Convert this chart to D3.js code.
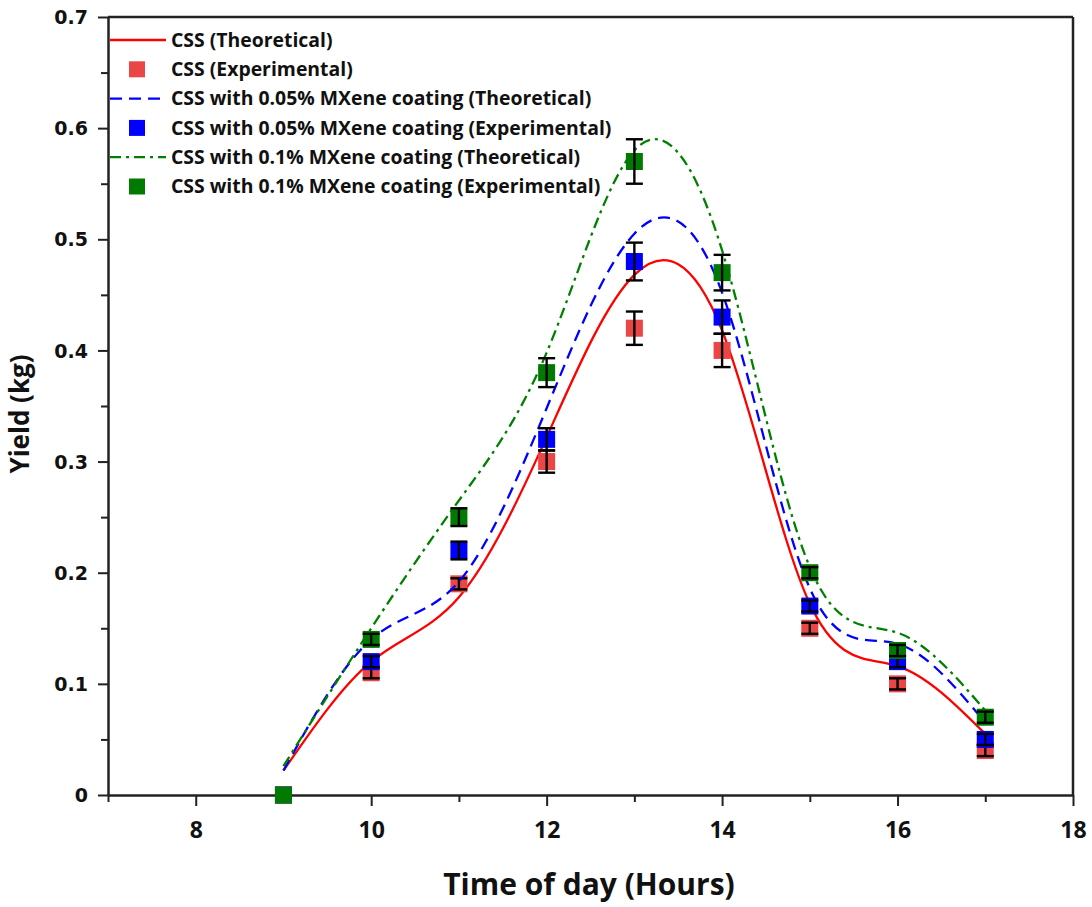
<!DOCTYPE html>
<html>
<head>
<meta charset="utf-8">
<script src="https://cdn.jsdelivr.net/npm/d3@7"></script>
<style>
  body { margin: 0; background: #fff; }
  svg text { font-family: "Open Sans", "Noto Sans", sans-serif; font-weight: 700; fill: #111; }
</style>
</head>
<body>
<div class="chart"></div>
<script>
var svgWidth = 1092;
var svgHeight = 907;

var margin = { top: 17, right: 19, bottom: 112, left: 108 };
var width = svgWidth - margin.left - margin.right;
var height = svgHeight - margin.top - margin.bottom;

// Data
var hours = [9, 10, 11, 12, 13, 14, 15, 16, 17];

var cssTheory   = [0.022, 0.120, 0.178, 0.322, 0.468, 0.418, 0.172, 0.116, 0.055];
var mx05Theory  = [0.022, 0.140, 0.192, 0.348, 0.505, 0.452, 0.186, 0.136, 0.065];
var mx10Theory  = [0.026, 0.150, 0.265, 0.398, 0.580, 0.490, 0.205, 0.146, 0.076];

var cssExp  = [0, 0.11, 0.19, 0.30, 0.42, 0.40, 0.15, 0.10, 0.04];
var mx05Exp = [0, 0.12, 0.22, 0.32, 0.48, 0.43, 0.17, 0.12, 0.05];
var mx10Exp = [0, 0.14, 0.25, 0.38, 0.57, 0.47, 0.20, 0.13, 0.07];

var cssErr  = [0, 0.005, 0.005, 0.010, 0.015, 0.015, 0.005, 0.005, 0.005];
var mx05Err = [0, 0.005, 0.008, 0.010, 0.017, 0.015, 0.005, 0.005, 0.005];
var mx10Err = [0, 0.005, 0.008, 0.013, 0.020, 0.016, 0.005, 0.005, 0.005];

var xTicks = [8, 10, 12, 14, 16, 18];
var yTicks = [0, 0.1, 0.2, 0.3, 0.4, 0.5, 0.6, 0.7];

var series = [
  { name: "CSS", theory: cssTheory, exp: cssExp, err: cssErr,
    line: "#ff0000", fill: "#ea4646", dash: null },
  { name: "CSS with 0.05% MXene coating", theory: mx05Theory, exp: mx05Exp, err: mx05Err,
    line: "#0000ff", fill: "#0000ff", dash: "12,7" },
  { name: "CSS with 0.1% MXene coating", theory: mx10Theory, exp: mx10Exp, err: mx10Err,
    line: "#008000", fill: "#007a00", dash: "11,5,3,5" }
];

var svg = d3.select(".chart")
  .append("svg")
  .attr("width", svgWidth)
  .attr("height", svgHeight);

var chartGroup = svg.append("g")
  .attr("transform", `translate(${margin.left}, ${margin.top})`);

var xScale = d3.scaleLinear().domain([7, 18]).range([0, width]);
var yScale = d3.scaleLinear().domain([0, 0.7]).range([height, 0]);

// Axes
var axisColor = "#222";
var bottomAxis = d3.axisBottom(xScale)
  .tickValues(d3.range(7, 19, 1))
  .tickSize(0)
  .tickFormat("");
var gx = chartGroup.append("g")
  .attr("transform", `translate(0, ${height})`)
  .call(bottomAxis);
gx.select(".domain").attr("stroke", axisColor).attr("stroke-width", 2.5);
gx.selectAll(".tick").append("line")
  .attr("y2", d => (xTicks.indexOf(d) >= 0 ? 11 : 7))
  .attr("stroke", axisColor)
  .attr("stroke-width", 2);
gx.selectAll(".tick")
  .filter(d => xTicks.indexOf(d) >= 0)
  .append("text")
  .attr("y", 43)
  .attr("text-anchor", "middle")
  .style("font-size", "23px")
  .text(d => d);

var leftAxis = d3.axisLeft(yScale)
  .tickValues(d3.range(0, 0.701, 0.05))
  .tickSize(0)
  .tickFormat("");
var gy = chartGroup.append("g").call(leftAxis);
gy.select(".domain").attr("stroke", axisColor).attr("stroke-width", 2.5);
gy.selectAll(".tick").append("line")
  .attr("x2", (d, i) => (i % 2 === 0 ? -10 : -7))
  .attr("stroke", axisColor)
  .attr("stroke-width", 2);
// labelled (major) ticks; the filtered selection is re-indexed 0..7
gy.selectAll(".tick")
  .filter((d, i) => i % 2 === 0)
  .append("text")
  .attr("x", -20)
  .attr("dy", "0.35em")
  .attr("text-anchor", "end")
  .style("font-family", "'DejaVu Sans', sans-serif")
  .style("font-size", "19px")
  .text((d, i) => (i === 0 ? "0" : d3.format(".1f")(yTicks[i])));

// top and right frame
chartGroup.append("line")
  .attr("x1", 0).attr("x2", width).attr("y1", 0).attr("y2", 0)
  .attr("stroke", axisColor).attr("stroke-width", 2.5);
chartGroup.append("line")
  .attr("x1", width).attr("x2", width).attr("y1", 0).attr("y2", height)
  .attr("stroke", axisColor).attr("stroke-width", 2.5);

// Curves, markers and error bars
var lineGen = d3.line()
  .x((d, i) => xScale(hours[i]))
  .y(d => yScale(d))
  .curve(d3.curveNatural);

var sq = 17;
var cap = 8.5;

series.forEach(function (s) {
  chartGroup.append("path")
    .datum(s.theory)
    .attr("d", lineGen)
    .attr("fill", "none")
    .attr("stroke", s.line)
    .attr("stroke-width", 2.3)
    .attr("stroke-dasharray", s.dash);

  var pts = hours.map((h, i) => ({ x: h, y: s.exp[i], e: s.err[i] }));

  chartGroup.append("g").selectAll("rect")
    .data(pts)
    .enter()
    .append("rect")
    .attr("x", d => xScale(d.x) - sq / 2)
    .attr("y", d => yScale(d.y) - sq / 2)
    .attr("width", sq)
    .attr("height", sq)
    .attr("fill", s.fill);

  var eb = chartGroup.append("g")
    .attr("stroke", "#000")
    .attr("stroke-width", 2.4)
    .selectAll("g")
    .data(pts.filter(d => d.e > 0))
    .enter()
    .append("g");
  eb.append("line")
    .attr("x1", d => xScale(d.x)).attr("x2", d => xScale(d.x))
    .attr("y1", d => yScale(d.y - d.e)).attr("y2", d => yScale(d.y + d.e));
  eb.append("line")
    .attr("x1", d => xScale(d.x) - cap).attr("x2", d => xScale(d.x) + cap)
    .attr("y1", d => yScale(d.y + d.e)).attr("y2", d => yScale(d.y + d.e));
  eb.append("line")
    .attr("x1", d => xScale(d.x) - cap).attr("x2", d => xScale(d.x) + cap)
    .attr("y1", d => yScale(d.y - d.e)).attr("y2", d => yScale(d.y - d.e));
});

// Legend
var legend = svg.append("g");
var rowY = 40;
var rowStep = 29.3;
series.forEach(function (s, k) {
  var y1 = rowY + rowStep * (2 * k);
  var y2 = rowY + rowStep * (2 * k + 1);
  legend.append("line")
    .attr("x1", 110).attr("x2", 166)
    .attr("y1", y1).attr("y2", y1)
    .attr("stroke", s.line)
    .attr("stroke-width", 2.3)
    .attr("stroke-dasharray", s.dash);
  legend.append("text")
    .attr("x", 171).attr("y", y1).attr("dy", "0.35em")
    .style("font-size", "19.4px")
    .text(s.name + " (Theoretical)");
  legend.append("rect")
    .attr("x", 129).attr("y", y2 - 8)
    .attr("width", 16).attr("height", 16)
    .attr("fill", s.fill);
  legend.append("text")
    .attr("x", 171).attr("y", y2).attr("dy", "0.35em")
    .style("font-size", "19.4px")
    .text(s.name + " (Experimental)");
});

// Axis titles
svg.append("text")
  .attr("x", 589)
  .attr("y", 895)
  .attr("text-anchor", "middle")
  .style("font-size", "30px")
  .text("Time of day (Hours)");

svg.append("text")
  .attr("transform", "translate(29, 414) rotate(-90)")
  .attr("text-anchor", "middle")
  .style("font-size", "26px")
  .text("Yield (kg)");
</script>
</body>
</html>
